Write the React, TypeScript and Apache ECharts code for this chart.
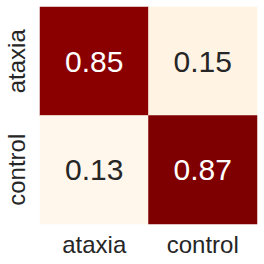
import React, { useEffect, useRef } from "react";
import * as echarts from "echarts";

const xCategories = ["ataxia", "control"];
const yCategories = ["ataxia", "control"];
// [xIndex, yIndex, value]
const cellValues: [number, number, number][] = [
  [0, 0, 0.85],
  [1, 0, 0.15],
  [0, 1, 0.13],
  [1, 1, 0.87],
];
const colorStops = ["#fff7ec", "#fee8c8", "#fdd49e", "#fdbb84", "#fc8d59", "#ef6548", "#d7301f", "#b30000", "#7f0000"];

export default function App() {
  const ref = useRef<HTMLDivElement>(null);
  useEffect(() => {
    if (!ref.current) return;
    const chart = echarts.init(ref.current, null, { renderer: "svg" });
    const vals = cellValues.map((d) => d[2]);
    const vmin = Math.min(...vals);
    const vmax = Math.max(...vals);
    const font = "Liberation Sans, Arial, sans-serif";
    chart.setOption({
      animation: false,
      grid: { left: 40, right: 7, top: 7, bottom: 40 },
      xAxis: {
        type: "category",
        data: xCategories,
        axisLine: { show: false },
        axisTick: { show: false },
        splitArea: { show: false },
        axisLabel: { color: "#262626", fontSize: 24, fontFamily: font, margin: 8 },
      },
      yAxis: {
        type: "category",
        data: yCategories,
        inverse: true,
        axisLine: { show: false },
        axisTick: { show: false },
        axisLabel: { color: "#262626", fontSize: 24, fontFamily: font, rotate: 90, margin: 12, align: "center", verticalAlign: "bottom" },
      },
      visualMap: {
        show: false,
        min: vmin,
        max: vmax,
        dimension: 2,
        inRange: { color: colorStops },
      },
      series: [
        {
          type: "heatmap",
          data: cellValues.map((d) => ({
            value: d,
            label: { color: d[2] > (vmin + vmax) / 2 ? "#ffffff" : "#262626" },
          })),
          label: {
            show: true,
            fontSize: 30,
            fontFamily: font,
            formatter: (p: any) => p.value[2].toFixed(2),
          },
          itemStyle: { borderWidth: 0 },
        },
      ],
    });
    return () => chart.dispose();
  }, []);
  return <div ref={ref} style={{ width: 264, height: 264, position: "absolute", left: 0, top: 0 }} />;
}
